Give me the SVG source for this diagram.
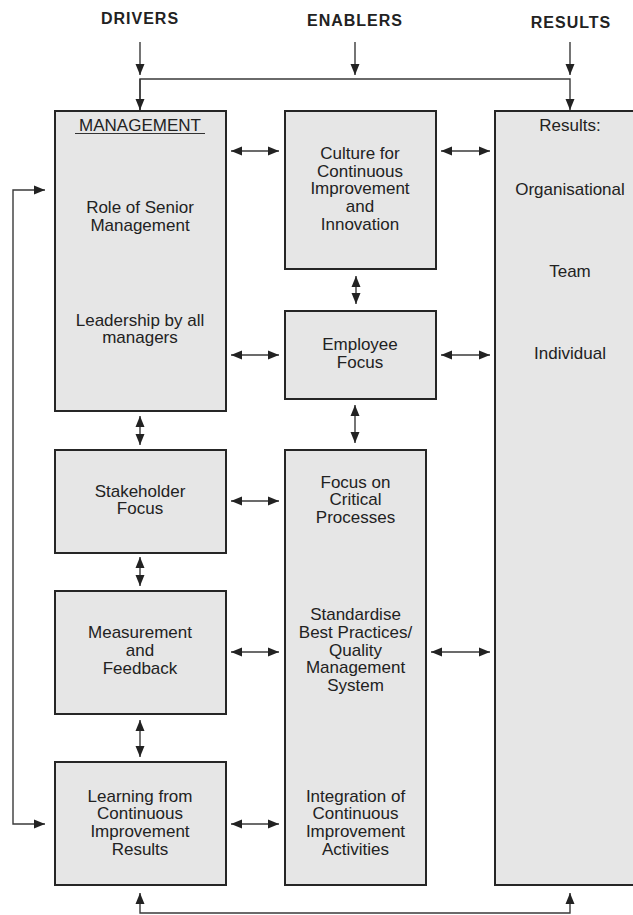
<svg xmlns="http://www.w3.org/2000/svg" width="633" height="915" viewBox="0 0 633 915">
  <style>
    .box { fill: #e6e6e6; stroke: #262626; stroke-width: 2; }
    .lbl { font-family: "Liberation Sans", Arial, sans-serif; font-size: 17px; fill: #222; text-anchor: middle; }
    .hdr { font-family: "Liberation Sans", Arial, sans-serif; font-size: 16px; font-weight: bold; fill: #222; text-anchor: middle; letter-spacing: 1px; }
    .wire { fill: none; stroke: #3a3a3a; stroke-width: 1.4; }
  </style>
  <defs>
    <marker id="head" markerUnits="userSpaceOnUse" markerWidth="12" markerHeight="10" refX="11" refY="5" orient="auto-start-reverse">
      <path d="M0,0.5 L11,5 L0,9.5 Z" fill="#222"/>
    </marker>
  </defs>
  <rect width="633" height="915" fill="#fff"/>

  <!-- column headings -->
  <g id="headings">
    <text class="hdr" x="140" y="24">DRIVERS</text>
    <text class="hdr" x="355" y="26">ENABLERS</text>
    <text class="hdr" x="571" y="28">RESULTS</text>
  </g>

  <!-- connectors -->
  <g id="connectors">
    <!-- heading feeds -->
    <path class="wire" d="M140,42 V75" marker-end="url(#head)"/>
    <path class="wire" d="M355,42 V75" marker-end="url(#head)"/>
    <path class="wire" d="M570,42 V75" marker-end="url(#head)"/>
    <path class="wire" d="M140,110 V79 H570 V110" marker-end="url(#head)"/>
    <path class="wire" d="M140,79 V110" marker-end="url(#head)"/>
    <!-- left feedback loop -->
    <path class="wire" d="M45,190 H13 V824 H45" marker-start="url(#head)" marker-end="url(#head)"/>
    <!-- bottom loop -->
    <path class="wire" d="M140,893 V913 H570 V893" marker-start="url(#head)" marker-end="url(#head)"/>
    <!-- horizontal two-way links -->
    <path class="wire" d="M231,151 H279" marker-start="url(#head)" marker-end="url(#head)"/>
    <path class="wire" d="M231,355 H279" marker-start="url(#head)" marker-end="url(#head)"/>
    <path class="wire" d="M441,151 H490" marker-start="url(#head)" marker-end="url(#head)"/>
    <path class="wire" d="M441,355 H490" marker-start="url(#head)" marker-end="url(#head)"/>
    <path class="wire" d="M231,501 H279" marker-start="url(#head)" marker-end="url(#head)"/>
    <path class="wire" d="M231,652 H279" marker-start="url(#head)" marker-end="url(#head)"/>
    <path class="wire" d="M231,824 H279" marker-start="url(#head)" marker-end="url(#head)"/>
    <path class="wire" d="M431,652 H490" marker-start="url(#head)" marker-end="url(#head)"/>
    <!-- vertical two-way links -->
    <path class="wire" d="M356,276 V304" marker-start="url(#head)" marker-end="url(#head)"/>
    <path class="wire" d="M355,405 V443" marker-start="url(#head)" marker-end="url(#head)"/>
    <path class="wire" d="M140,416 V445" marker-start="url(#head)" marker-end="url(#head)"/>
    <path class="wire" d="M140,557 V586" marker-start="url(#head)" marker-end="url(#head)"/>
    <path class="wire" d="M140,720 V757" marker-start="url(#head)" marker-end="url(#head)"/>
  </g>

  <g id="management">
    <rect class="box" x="55" y="111" width="171" height="300"/>
    <text class="lbl" x="140" y="131">MANAGEMENT</text>
    <line x1="75" y1="133.5" x2="205" y2="133.5" stroke="#333" stroke-width="1.2"/>
    <text class="lbl" x="140" y="213">Role of Senior</text>
    <text class="lbl" x="140" y="230.5">Management</text>
    <text class="lbl" x="140" y="325.5">Leadership by all</text>
    <text class="lbl" x="140" y="343">managers</text>
  </g>

  <g id="culture">
    <rect class="box" x="285" y="111" width="151" height="158"/>
    <text class="lbl" x="360" y="159">Culture for</text>
    <text class="lbl" x="360" y="176.7">Continuous</text>
    <text class="lbl" x="360" y="194.4">Improvement</text>
    <text class="lbl" x="360" y="212">and</text>
    <text class="lbl" x="360" y="229.8">Innovation</text>
  </g>

  <g id="results">
    <rect class="box" x="495" y="111" width="160" height="774"/>
    <text class="lbl" x="570" y="130.5">Results:</text>
    <text class="lbl" x="570" y="195">Organisational</text>
    <text class="lbl" x="570" y="276.5">Team</text>
    <text class="lbl" x="570" y="359">Individual</text>
  </g>

  <g id="employee">
    <rect class="box" x="285" y="311" width="151" height="88"/>
    <text class="lbl" x="360" y="350">Employee</text>
    <text class="lbl" x="360" y="367.7">Focus</text>
  </g>

  <g id="stakeholder">
    <rect class="box" x="55" y="450" width="171" height="103"/>
    <text class="lbl" x="140" y="496.5">Stakeholder</text>
    <text class="lbl" x="140" y="514.2">Focus</text>
  </g>

  <g id="measurement">
    <rect class="box" x="55" y="591" width="171" height="123"/>
    <text class="lbl" x="140" y="638.3">Measurement</text>
    <text class="lbl" x="140" y="656">and</text>
    <text class="lbl" x="140" y="673.7">Feedback</text>
  </g>

  <g id="learning">
    <rect class="box" x="55" y="762" width="171" height="123"/>
    <text class="lbl" x="140" y="801.7">Learning from</text>
    <text class="lbl" x="140" y="819.4">Continuous</text>
    <text class="lbl" x="140" y="837.1">Improvement</text>
    <text class="lbl" x="140" y="854.8">Results</text>
  </g>

  <g id="processes">
    <rect class="box" x="285" y="450" width="141" height="435"/>
    <text class="lbl" x="355.5" y="487.7">Focus on</text>
    <text class="lbl" x="355.5" y="505.3">Critical</text>
    <text class="lbl" x="355.5" y="523">Processes</text>
    <text class="lbl" x="355.5" y="620">Standardise</text>
    <text class="lbl" x="355.5" y="637.8">Best Practices/</text>
    <text class="lbl" x="355.5" y="655.6">Quality</text>
    <text class="lbl" x="355.5" y="673.4">Management</text>
    <text class="lbl" x="355.5" y="691.2">System</text>
    <text class="lbl" x="355.5" y="801.7">Integration of</text>
    <text class="lbl" x="355.5" y="819.4">Continuous</text>
    <text class="lbl" x="355.5" y="837.1">Improvement</text>
    <text class="lbl" x="355.5" y="854.8">Activities</text>
  </g>
</svg>
